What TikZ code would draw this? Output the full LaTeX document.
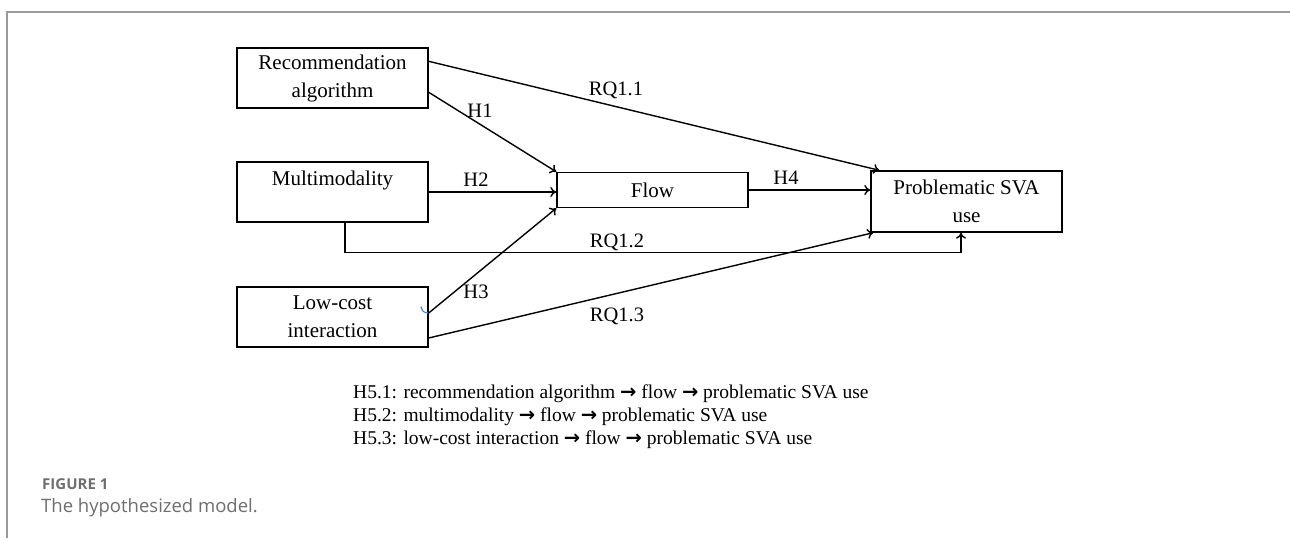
\documentclass[tikz,border=0pt]{standalone}
\usepackage{fontspec}
\setmainfont{Liberation Serif}
\newfontfamily\capfont{Open Sans}
\newfontfamily\arrfont{DejaVu Sans}
\newcommand{\legarrow}{{\arrfont\bfseries\fontsize{19.5}{19.5}\selectfont →}}
\usetikzlibrary{arrows.meta,calc}
\definecolor{framegray}{HTML}{9A9A9A}
\definecolor{capgray}{HTML}{6E6E6E}
\definecolor{tickblue}{HTML}{4A7FE0}
\begin{document}
\begin{tikzpicture}[x=1pt,y=-1pt,
  box/.style={draw,line width=1.4pt,inner sep=0pt,align=center,
    font=\fontsize{21}{28}\selectfont},
  conn/.style={line width=1.4pt,-{To[length=6pt,width=10pt]}},
  lab/.style={font=\fontsize{20.5}{24}\selectfont,inner sep=0pt},
  leg/.style={font=\fontsize{19.5}{23}\selectfont,anchor=base west,inner sep=0pt}]
\useasboundingbox (0,0) rectangle (1290,538);
% frame
\draw[framegray,line width=2pt] (7,538) -- (7,12) -- (1290,12);
% boxes
\node[box,minimum width=191pt,minimum height=60pt] (rec) at (332.5,78) {Recommendation\\algorithm};
\node[box,minimum width=191pt,minimum height=60pt] (mul) at (332.5,192) {Multimodality\\\mbox{}};
\node[box,minimum width=191pt,minimum height=60pt] (low) at (332.5,317) {Low-cost\\interaction};
\node[box,minimum width=191pt,minimum height=35pt] (flow) at (652.5,190) {Flow};
\node[box,minimum width=191pt,minimum height=61pt] (prob) at (966.5,201.5) {Problematic SVA\\use};
% connectors
\draw[conn] ([yshift=-14pt]rec.north east) -- ([xshift=9pt]prob.north west);
\draw[conn] ([yshift=-45pt]rec.north east) -- (flow.north west);
\draw[conn] (mul.east) -- (flow.west |- mul.east);
\draw[conn] ([yshift=4pt]low.east) -- (flow.south west);
\draw[conn] (flow.east) -- (prob.west |- flow.east);
\coordinate (m1) at ([xshift=12.5pt]mul.south);
\coordinate (p1) at ([xshift=-5.5pt]prob.south);
\draw[conn] (m1) -- ++(0,30) -| (p1);
\draw[conn] ([yshift=-21pt]low.east) -- ([xshift=3pt]prob.south west);
% small blue tick
\draw[tickblue,line width=1.2pt,line cap=round] (421,307) .. controls (423,312) .. (428,313);
% labels
\node[lab] (l1) at (480,111) {H1};
\node[lab] (l11) at (616,90) {RQ1.1};
\node[lab] (l2) at (476,180) {H2};
\node[lab] (l4) at (786,178) {H4};
\node[lab] (l12) at (617,242) {RQ1.2};
\node[lab] (l3) at (476,292) {H3};
\node[lab] (l13) at (617,316) {RQ1.3};
% legend
\node[leg] (g1) at (353,398) {H5.1: recommendation algorithm \legarrow{} flow \legarrow{} problematic SVA use};
\node[leg] (g2) at (353,421) {H5.2: multimodality \legarrow{} flow \legarrow{} problematic SVA use};
\node[leg] (g3) at (353,444) {H5.3: low-cost interaction \legarrow{} flow \legarrow{} problematic SVA use};
% caption
\node[anchor=base west,inner sep=0pt,text=capgray,font=\capfont\fontsize{15}{18}\selectfont\bfseries] (fig) at (42,489) {FIGURE 1};
\node[anchor=base west,inner sep=0pt,text=capgray,font=\capfont\fontsize{18.5}{22}\selectfont] (cap) at (41,512) {The hypothesized model.};
\end{tikzpicture}
\end{document}
